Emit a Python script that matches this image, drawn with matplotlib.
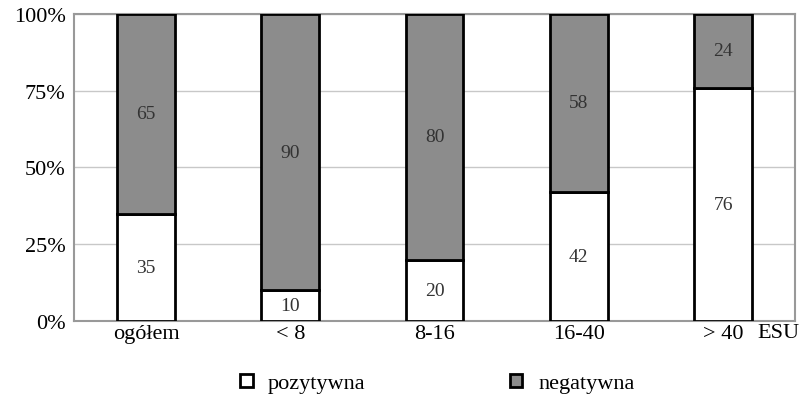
import numpy as np
import matplotlib.pyplot as plt
from matplotlib.patches import Patch

plt.rcParams['font.family'] = ['Liberation Serif', 'DejaVu Serif']

# udział odpowiedzi wg klas wielkości ekonomicznej
kategorie = ['ogółem', '< 8', '8-16', '16-40', '> 40']
pozytywna = [35, 10, 20, 42, 76]
negatywna = [65, 90, 80, 58, 24]

fig = plt.figure(figsize=(8.04, 4.02), dpi=100)
ax = fig.add_axes([0.092, 0.199, 0.897, 0.764])

x = np.arange(len(kategorie))
szer = 0.4
ax.bar(x, pozytywna, szer, color='white', edgecolor='black', linewidth=2, zorder=3)
ax.bar(x, negatywna, szer, bottom=pozytywna, color='#8c8c8c', edgecolor='black',
       linewidth=2, zorder=3)

for i in range(len(x)):
    ax.text(x[i], pozytywna[i] / 2, str(pozytywna[i]), ha='center', va='center',
            fontsize=14, color='#333333', zorder=4)
    ax.text(x[i], pozytywna[i] + negatywna[i] / 2, str(negatywna[i]), ha='center',
            va='center', fontsize=14, color='#333333', zorder=4)

ax.set_xlim(-0.5, 4.5)
ax.set_ylim(0, 100)
ax.set_yticks([0, 25, 50, 75, 100])
ax.set_yticklabels(['0%', '25%', '50%', '75%', '100%'], fontsize=16)
ax.set_xticks(x)
ax.set_xticklabels(kategorie, fontsize=16)
ax.tick_params(axis='x', length=0, pad=2)
ax.tick_params(axis='y', length=0, pad=6)
ax.grid(axis='y', color='#c8c8c8', linewidth=1, zorder=0)
for s in ax.spines.values():
    s.set_color('#999999')
    s.set_linewidth(1.5)

# jednostka przy ostatniej klasie
ax.text(4.24, -0.008, 'ESU', ha='left', va='top', fontsize=16,
        transform=ax.get_xaxis_transform(), clip_on=False)

uchwyty = [Patch(facecolor='white', edgecolor='black', linewidth=2, label='pozytywna'),
           Patch(facecolor='#8c8c8c', edgecolor='black', linewidth=2, label='negatywna')]
fig.legend(handles=uchwyty, loc='lower center', bbox_to_anchor=(0.544, -0.03), ncol=2,
           frameon=False, fontsize=16, handlelength=0.55, handleheight=0.55,
           handletextpad=0.7, columnspacing=6.5)

fig.savefig('out.png', dpi=100)
